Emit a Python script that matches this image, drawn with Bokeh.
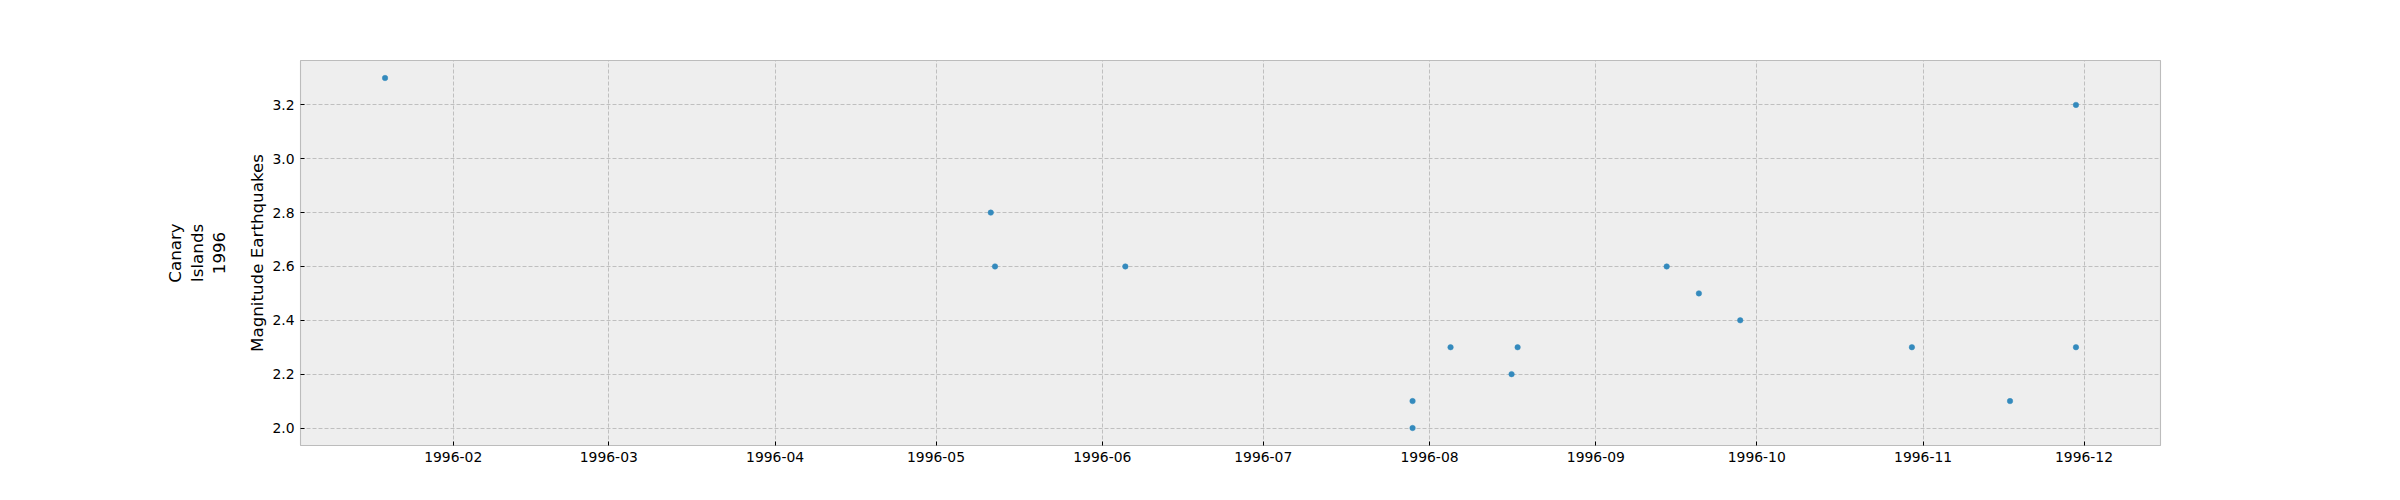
import pandas as pd
from bokeh.plotting import figure
from bokeh.models import (Range1d, FixedTicker, PrintfTickFormatter, DatetimeTickFormatter,
                          LinearAxis, ColumnDataSource)
from bokeh.embed import file_html
from bokeh.resources import INLINE

# ---- data ----
dates = ["1996-01-19 07:00", "1996-05-11 05:00", "1996-05-12 00:00", "1996-06-05 07:00",
         "1996-07-28 20:00", "1996-07-28 20:00", "1996-08-04 22:00", "1996-08-16 07:00",
         "1996-08-17 10:00", "1996-09-14 05:00", "1996-09-20 05:00", "1996-09-27 22:00",
         "1996-10-29 22:00", "1996-11-17 05:00", "1996-11-29 12:00", "1996-11-29 12:00"]
magnitudes = [3.3, 2.8, 2.6, 2.6, 2.1, 2.0, 2.3, 2.2, 2.3, 2.6, 2.5, 2.4, 2.3, 2.1, 3.2, 2.3]
x_tick_labels = ["1996-02", "1996-03", "1996-04", "1996-05", "1996-06", "1996-07",
                 "1996-08", "1996-09", "1996-10", "1996-11", "1996-12"]
y_ticks = [2.0, 2.2, 2.4, 2.6, 2.8, 3.0, 3.2]
y_label = "Magnitude Earthquakes"
side_label = "Canary\nIslands\n1996"

ts = pd.to_datetime(dates)
src = ColumnDataSource(dict(x=ts, y=magnitudes))

xmin, xmax = ts.min(), ts.max()
xspan = xmax - xmin
ymin, ymax = min(magnitudes), max(magnitudes)
yspan = ymax - ymin

p = figure(width=2400, height=500, output_backend="svg", toolbar_location=None,
           x_axis_type="datetime",
           x_range=Range1d(xmin - 0.05 * xspan, xmax + 0.05 * xspan),
           y_range=Range1d(ymin - 0.05 * yspan, ymax + 0.05 * yspan),
           min_border_left=300, min_border_right=240, min_border_top=60, min_border_bottom=55)

p.background_fill_color = "#eeeeee"
p.border_fill_color = "white"
p.outline_line_color = "#bcbcbc"
p.outline_line_width = 1.1

p.scatter("x", "y", source=src, size=5.5, fill_color="#348ABD", line_color="#348ABD", line_width=0.5)

font = "DejaVu Sans"
xticks = [pd.Timestamp(t + "-01").value / 1e6 for t in x_tick_labels]
xticker = FixedTicker(ticks=xticks)
yticker = FixedTicker(ticks=y_ticks)

xax = p.xaxis[0]
yax = p.yaxis[0]
xax.ticker = xticker
xax.formatter = DatetimeTickFormatter(years="%Y-%m", months="%Y-%m", days="%Y-%m",
                                      hours="%Y-%m", hourmin="%Y-%m")
yax.ticker = yticker
yax.formatter = PrintfTickFormatter(format="%.1f")
yax.axis_label = y_label

for ax in (xax, yax):
    ax.axis_line_color = None
    ax.major_tick_in = 4
    ax.major_tick_out = 0
    ax.major_tick_line_color = "black"
    ax.major_tick_line_width = 1
    ax.minor_tick_line_color = None
    ax.major_label_text_font = font
    ax.major_label_text_font_size = "13.9px"
    ax.major_label_text_color = "black"
    ax.major_label_standoff = 6
    ax.axis_label_text_font = font
    ax.axis_label_text_font_size = "16.7px"
    ax.axis_label_text_font_style = "normal"
    ax.axis_label_text_color = "black"
yax.axis_label_standoff = 2

side = LinearAxis(ticker=FixedTicker(ticks=[]), axis_label=side_label)
side.axis_line_color = None
side.major_tick_line_color = None
side.minor_tick_line_color = None
side.major_label_text_font_size = "0px"
side.axis_label_text_font = font
side.axis_label_text_font_size = "16.7px"
side.axis_label_text_font_style = "normal"
side.axis_label_text_color = "black"
side.axis_label_text_line_height = 1.08
side.axis_label_standoff = 16
p.add_layout(side, "left")

xg = p.xgrid[0]
yg = p.ygrid[0]
xg.ticker = xticker
yg.ticker = yticker
for g in (xg, yg):
    g.grid_line_color = "#b2b2b2"
    g.grid_line_width = 0.8
    g.grid_line_dash = "4 2"

open("out.html", "w").write(file_html(p, INLINE))
